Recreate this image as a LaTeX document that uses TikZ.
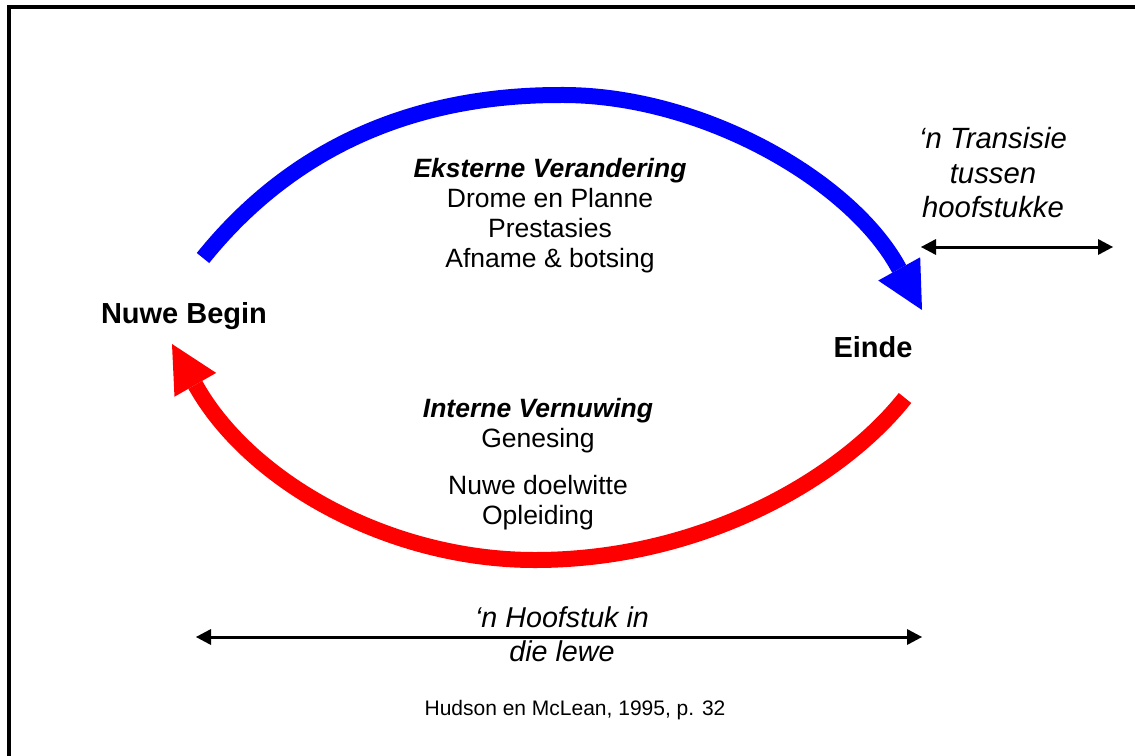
\documentclass[tikz,border=0pt]{standalone}
\usepackage{fontspec}
\setmainfont{Liberation Sans}
\usetikzlibrary{arrows.meta}
\begin{document}
\begin{tikzpicture}[x=1pt,y=-1pt,
  body/.style={inner sep=0pt, align=center, font=\fontsize{26.5}{30}\selectfont},
  big/.style={inner sep=0pt, font=\fontsize{29}{32}\selectfont\bfseries},
  side/.style={inner sep=0pt, align=center, font=\fontsize{29.3}{34.5}\selectfont\itshape},
  small/.style={inner sep=0pt, font=\fontsize{21}{25}\selectfont},
  cyclearc/.style={line width=16pt, line join=round, -{Triangle[length=47pt,width=48pt,line width=0pt]}},
  span/.style={line width=3pt, {Triangle[length=15pt,width=16pt,line width=0pt]}-{Triangle[length=15pt,width=16pt,line width=0pt]}}
]
\useasboundingbox (0,0) rectangle (1135,755);
% frame (cropped at right and bottom)
\draw[line width=4pt] (9,757) -- (9,7) -- (1137,7);

% labels
\node[big] (begin) at (184,316) {Nuwe Begin};
\node[big] (einde) at (873,347) {Einde};
\node[body] (ext) at (550,216) {\textbf{\textit{Eksterne Verandering}}\\Drome en Planne\\Prestasies\\Afname \& botsing};
\node[body] (int) at (538,464) {\textbf{\textit{Interne Vernuwing}}\\Genesing\\[17pt]Nuwe doelwitte\\Opleiding};
\node[side] (trans) at (993,173) {‘n Transisie\\tussen\\hoofstukke};
\node[side, font=\fontsize{28.7}{34}\selectfont\itshape] (hoofstuk) at (562,634) {‘n Hoofstuk in\\die lewe};
\node[small] (bron) at (575,710) {Hudson en McLean, 1995, p. 32};

% cycle arcs
\coordinate (bstart) at (203,258);
\coordinate (bbase) at (897.7,266.2);
\coordinate (btip) at (922,310);
\coordinate (rstart) at (905,398);
\coordinate (rbase) at (196.8,387.4);
\coordinate (rtip) at (172,344);
\draw[cyclearc, blue] (bstart) .. controls (290,150) and (410,95) .. (560,95)
  .. controls (700,94) and (849,179) .. (bbase) -- (btip);
\draw[cyclearc, red] (rstart) .. controls (840,480) and (700,560) .. (535,560)
  .. controls (390,560) and (251.5,482.8) .. (rbase) -- (rtip);

% spans
\coordinate (tl) at (921,247);
\coordinate (tr) at (1113,247);
\coordinate (hl) at (196,637);
\coordinate (hr) at (922,637);
\draw[span] (tl) -- (tr);
\draw[span] (hl) -- (hr);
\end{tikzpicture}
\end{document}
